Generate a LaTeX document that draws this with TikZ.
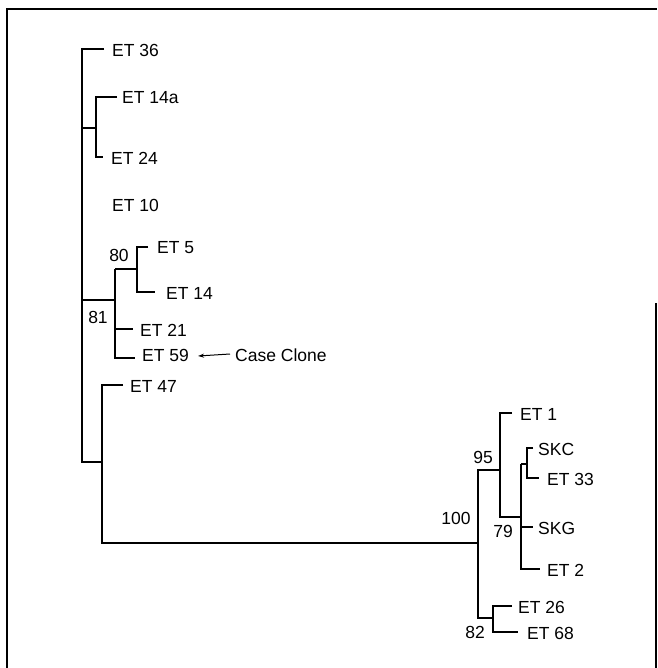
\documentclass[tikz,border=0pt]{standalone}
\usepackage{fontspec}
\setmainfont{Liberation Sans}
\usetikzlibrary{arrows.meta}
\begin{document}
\begin{tikzpicture}[x=1pt,y=-1pt,
  br/.style={line width=1.3pt},
  frame/.style={line width=1.5pt},
  leaf/.style={anchor=west,inner sep=0pt,font=\fontsize{17.5}{20}\selectfont},
  supp/.style={inner sep=0pt,font=\fontsize{17.5}{20}\selectfont}]
\useasboundingbox (0,0) rectangle (657,668);
% frame
\draw[frame] (7,668) -- (7,9) -- (657,9);
\draw[frame] (656,303) -- (656,668);
% leaves
\node[leaf] (et36) at (112,50) {ET 36};
\node[leaf] (et14a) at (122,98) {ET 14a};
\node[leaf] (et24) at (111,158) {ET 24};
\node[leaf] (et10) at (112,205) {ET 10};
\node[leaf] (et5) at (157,248) {ET 5};
\node[leaf] (et14) at (166,293) {ET 14};
\node[leaf] (et21) at (140,330) {ET 21};
\node[leaf] (et59) at (142,355) {ET 59};
\node[leaf] (case) at (235,355) {Case Clone};
\node[leaf] (et47) at (130,386) {ET 47};
\node[leaf] (et1) at (520,414) {ET 1};
\node[leaf] (skc) at (538,449) {SKC};
\node[leaf] (et33) at (547,479) {ET 33};
\node[leaf] (skg) at (538,528) {SKG};
\node[leaf] (et2) at (547,570) {ET 2};
\node[leaf] (et26) at (518,607) {ET 26};
\node[leaf] (et68) at (527,633) {ET 68};
% support values
\node[supp] (s80) at (119,255) {80};
\node[supp] (s81) at (98,317) {81};
\node[supp] (s95) at (483,457) {95};
\node[supp] (s100) at (456,518) {100};
\node[supp] (s79) at (503,531) {79};
\node[supp] (s82) at (475,632) {82};
% internal coordinates
\coordinate (root) at (82,49);
\coordinate (rootb) at (82,462);
\coordinate (n1424) at (96,128);
\coordinate (n81) at (115,300);
\coordinate (n80) at (137,269);
\coordinate (n47) at (102,462);
\coordinate (n100) at (478,543);
\coordinate (n95) at (500,470);
\coordinate (n79) at (521,517);
\coordinate (nskc) at (527,464);
\coordinate (n82) at (493,618);
% tree
\draw[br] (104,49) -- (root) -- (rootb) -- (n47);
\draw[br] (82,128) -- (n1424);
\draw[br] (117,97) -- (96,97) -- (96,157) -- (103,157);
\draw[br] (82,300) -- (n81);
\draw[br] (115,269) -- (n80);
\draw[br] (148,247) -- (137,247) -- (137,292) -- (155,292);
\draw[br] (115,269) -- (115,358) -- (135,358);
\draw[br] (115,329) -- (133,329);
\draw[br] (123,385) -- (102,385) -- (102,543) -- (n100);
\draw[br] (n100) -- (478,470) -- (n95);
\draw[br] (n100) -- (478,618) -- (n82);
\draw[br] (512,413) -- (500,413) -- (500,517) -- (n79);
\draw[br] (521,464) -- (521,569) -- (540,569);
\draw[br] (521,464) -- (nskc);
\draw[br] (533,448) -- (527,448) -- (527,478) -- (539,478);
\draw[br] (521,527) -- (533,527);
\draw[br] (512,606) -- (493,606) -- (493,632) -- (518,632);
% arrow
\draw[line width=1pt,-{Stealth[length=6pt,width=4pt]}] (case.west) ++(-5,-1) -- ([xshift=9pt,yshift=-1pt]et59.east);
\end{tikzpicture}
\end{document}
